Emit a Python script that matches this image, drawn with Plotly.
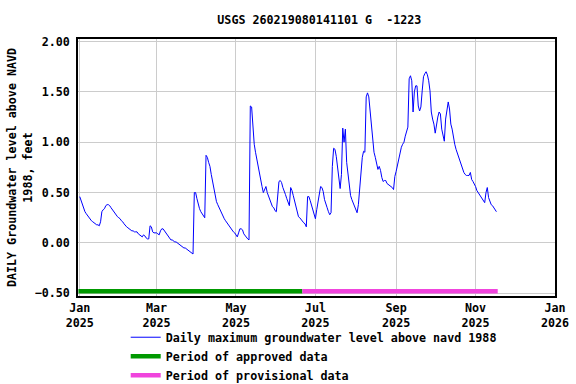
import pandas as pd
import plotly.graph_objects as go

start_date = "2025-01-01"
gw_level = [
    0.46, 0.42, 0.38, 0.34, 0.31, 0.29, 0.27, 0.25, 0.23, 0.22,
    0.21, 0.20, 0.19, 0.18, 0.18, 0.17, 0.21, 0.31, 0.33, 0.34,
    0.37, 0.38, 0.38, 0.37, 0.35, 0.33, 0.31, 0.29, 0.28, 0.26,
    0.25, 0.24, 0.22, 0.21, 0.19, 0.17, 0.16, 0.15, 0.14, 0.13,
    0.12, 0.12, 0.11, 0.11, 0.11, 0.09, 0.08, 0.07, 0.06, 0.08,
    0.07, 0.05, 0.04, 0.04, 0.17, 0.16, 0.11, 0.10, 0.10, 0.10,
    0.09, 0.08, 0.12, 0.14, 0.14, 0.12, 0.10, 0.08, 0.06, 0.05,
    0.03, 0.03, 0.02, 0.01, 0.01, 0.00, -0.01, -0.02, -0.03, -0.04,
    -0.05, -0.05, -0.06, -0.07, -0.08, -0.09, -0.10, -0.11, 0.50, 0.50,
    0.44, 0.38, 0.34, 0.31, 0.29, 0.27, 0.25, 0.87, 0.85, 0.80,
    0.76, 0.68, 0.61, 0.52, 0.45, 0.41, 0.38, 0.35, 0.32, 0.30,
    0.27, 0.24, 0.22, 0.20, 0.18, 0.16, 0.14, 0.13, 0.11, 0.10,
    0.08, 0.06, 0.10, 0.14, 0.14, 0.13, 0.09, 0.07, 0.05, 0.04,
    0.03, 1.36, 1.35, 1.13, 0.98, 0.90, 0.83, 0.73, 0.66, 0.60,
    0.56, 0.50, 0.53, 0.56, 0.50, 0.46, 0.42, 0.38, 0.36, 0.35,
    0.32, 0.31, 0.46, 0.61, 0.62, 0.60, 0.55, 0.52, 0.48, 0.44,
    0.40, 0.37, 0.55, 0.52, 0.47, 0.42, 0.36, 0.29, 0.26, 0.25,
    0.23, 0.22, 0.20, 0.19, 0.16, 0.46, 0.46, 0.42, 0.37, 0.33,
    0.27, 0.24, 0.33, 0.40, 0.45, 0.56, 0.55, 0.51, 0.43, 0.38,
    0.35, 0.31, 0.28, 0.30, 0.76, 0.94, 0.93, 0.86, 0.76, 0.68,
    0.54, 0.68, 1.14, 1.00, 1.13, 0.80, 0.68, 0.55, 0.47, 0.43,
    0.40, 0.36, 0.33, 0.30, 0.38, 0.54, 0.73, 0.85, 0.91, 0.90,
    1.45, 1.49, 1.45, 1.31, 1.10, 0.98, 0.90, 0.85, 0.78, 0.73,
    0.76, 0.72, 0.65, 0.61, 0.62, 0.62, 0.59, 0.58, 0.57, 0.56,
    0.55, 0.53, 0.66, 0.71, 0.78, 0.83, 0.90, 0.95, 0.98, 1.00,
    1.06, 1.11, 1.15, 1.63, 1.66, 1.61, 1.30, 1.50, 1.56, 1.56,
    1.36, 1.31, 1.35, 1.51, 1.65, 1.68, 1.70, 1.67, 1.61, 1.51,
    1.30, 1.23, 1.18, 1.09, 1.18, 1.25, 1.30, 1.28, 1.13, 1.06,
    1.01, 1.23, 1.30, 1.40, 1.33, 1.18, 1.13, 1.03, 0.98, 0.93,
    0.89, 0.85, 0.81, 0.77, 0.73, 0.70, 0.68, 0.67, 0.67, 0.67,
    0.70, 0.63, 0.61, 0.59, 0.56, 0.52, 0.50, 0.48, 0.46, 0.45,
    0.43, 0.40, 0.50, 0.55, 0.45, 0.41, 0.38, 0.37, 0.35, 0.33,
    0.31,
]
approved_period = ["2024-12-31", "2025-06-21"]
provisional_period = ["2025-06-21", "2025-11-18"]
period_level = -0.48

tick_dates = ["2025-01-01", "2025-03-01", "2025-05-01", "2025-07-01",
              "2025-09-01", "2025-11-01", "2026-01-01"]
tick_text = ["Jan<br>2025", "Mar<br>2025", "May<br>2025", "Jul<br>2025",
             "Sep<br>2025", "Nov<br>2025", "Jan<br>2026"]
y_ticks = [-0.5, 0.0, 0.5, 1.0, 1.5, 2.0]

dates = pd.date_range(start_date, periods=len(gw_level), freq="D")

FONT = "DejaVu Sans Mono"
fs = 11.7

fig = go.Figure()
fig.add_trace(go.Scatter(
    x=dates, y=gw_level, mode="lines",
    line=dict(color="#0000ff", width=1),
    name="Daily maximum groundwater level above navd 1988",
))
fig.add_trace(go.Scatter(
    x=approved_period, y=[period_level] * 2, mode="lines",
    line=dict(color="#009900", width=4.3),
    name="Period of approved data",
))
fig.add_trace(go.Scatter(
    x=provisional_period, y=[period_level] * 2, mode="lines",
    line=dict(color="#f044dd", width=4.3),
    name="Period of provisional data",
))

fig.update_layout(
    width=576, height=384,
    margin=dict(l=78, r=21, t=39, b=88, autoexpand=False),
    paper_bgcolor="white", plot_bgcolor="white",
    font=dict(family=FONT, size=fs, color="black", weight="bold"),
    title=dict(text="USGS 260219080141101 G  -1223", x=0.506, xref="paper",
               xanchor="center", y=1 - 20 / 384, yref="container",
               yanchor="middle", automargin=False,
               font=dict(family=FONT, size=fs, color="black", weight="bold")),
    showlegend=True,
    legend=dict(x=0.10, y=-0.104, xanchor="left", yanchor="top",
                bgcolor="rgba(0,0,0,0)", borderwidth=0,
                font=dict(family=FONT, size=fs, color="black", weight="bold"),
                tracegroupgap=0),
)
fig.update_xaxes(
    type="date", automargin=False,
    range=["2024-12-30 16:00", "2026-01-01 00:00"],
    tickmode="array", tickvals=tick_dates, ticktext=tick_text,
    showgrid=True, gridcolor="#cccccc", gridwidth=1,
    showline=True, linecolor="black", linewidth=1.5, mirror=True,
    ticks="", zeroline=False, ticklabelstandoff=0,
)
fig.update_yaxes(
    automargin=False,
    range=[-0.527, 2.025],
    tickmode="array", tickvals=y_ticks, tickformat=".2f",
    showgrid=True, gridcolor="#cccccc", gridwidth=1,
    showline=True, linecolor="black", linewidth=1.5, mirror=True,
    ticks="", zeroline=False, ticklabelstandoff=4,
    title=dict(text="DAILY Groundwater level above NAVD<br>1988, feet",
               standoff=0,
               font=dict(family=FONT, size=fs, color="black", weight="bold")),
)

fig.write_html("out.html", config={"displayModeBar": False},
               post_script="document.body.style.margin='0px';")
